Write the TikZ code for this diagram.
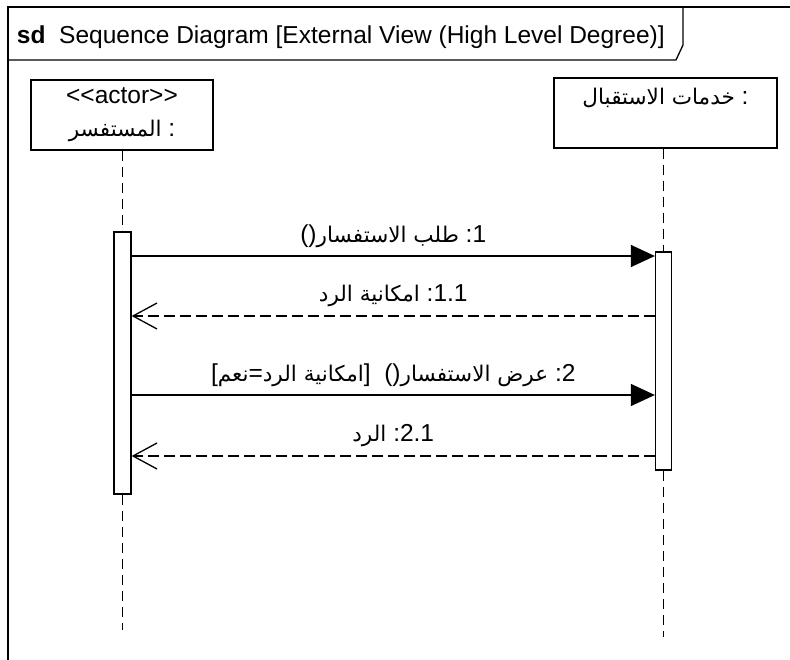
\documentclass[tikz,border=0pt]{standalone}
\usepackage{fontspec}
\setmainfont{Liberation Sans}
\newfontfamily\arabicfont[Script=Arabic,Scale=0.88]{DejaVu Sans}
\TeXXeTstate=1
\usetikzlibrary{arrows.meta}
\newcommand{\artxt}[1]{{\arabicfont\beginR #1\endR}}

\begin{document}
\begin{tikzpicture}[x=1pt,y=-1pt,line width=1.3pt,
  font=\fontsize{24.5}{33}\selectfont,
  lifebox/.style={draw, align=center, inner sep=0pt, minimum height=70pt},
  actbar/.style={draw, fill=white, inner sep=0pt, minimum width=17pt},
  lifeline/.style={dash pattern=on 10pt off 6pt},
  callmsg/.style={-{Triangle[length=24pt,width=22pt]}},
  replymsg/.style={dash pattern=on 11pt off 5pt, -{Straight Barb[length=24pt,width=26pt]}},
  msglabel/.style={midway, yshift=20pt}
]
  \useasboundingbox (0,0) rectangle (790,660);

  % frame and its tab
  \begin{scope}
    \clip (0,0) rectangle (790,660);
    \draw (8,7) rectangle (800,680);
  \end{scope}
  \draw (8,60) -- (676,60) -- (683,45) -- (683,7);
  \node[anchor=west] (title) at (13,37)
    {\textbf{sd}\ \ Sequence Diagram [External View (High Level Degree)]};

  % lifelines
  \node[lifebox, minimum width=182pt] (asker) at (122,115)
    {<\kern0pt<actor>\kern0pt>\\ \artxt{المستفسر} :};
  \node[lifebox, minimum width=223pt] (reception) at (665.5,113)
    {\artxt{خدمات الاستقبال} :\\ \mbox{}};

  \node[actbar, minimum height=262pt] (askbar) at (122.5,363) {};
  \node[actbar, minimum width=16pt, minimum height=218pt] (recbar) at (663.5,361) {};

  \coordinate (askend) at (122.5,630);
  \coordinate (recend) at (663.5,637);
  \draw[lifeline] (askbar.north |- asker.south) -- (askbar.north);
  \draw[lifeline] (askbar.south) -- (askend);
  \draw[lifeline] (recbar.north |- reception.south) -- (recbar.north);
  \draw[lifeline] (recbar.south) -- (recend);

  % messages
  \coordinate (y1) at (0,256);
  \coordinate (y2) at (0,316);
  \coordinate (y3) at (0,395);
  \coordinate (y4) at (0,456);
  \draw[callmsg] (askbar.east |- y1) -- node[msglabel]
    {()\artxt{طلب الاستفسار} :1} (recbar.west |- y1);
  \draw[replymsg] (recbar.west |- y2) -- node[msglabel]
    {\artxt{امكانية الرد} :1.1} (askbar.east |- y2);
  \draw[callmsg] (askbar.east |- y3) -- node[msglabel]
    {[\artxt{نعم}=\artxt{امكانية الرد}]\ \ ()\artxt{عرض الاستفسار} :2} (recbar.west |- y3);
  \draw[replymsg] (recbar.west |- y4) -- node[msglabel]
    {\artxt{الرد} :2.1} (askbar.east |- y4);
\end{tikzpicture}
\end{document}
